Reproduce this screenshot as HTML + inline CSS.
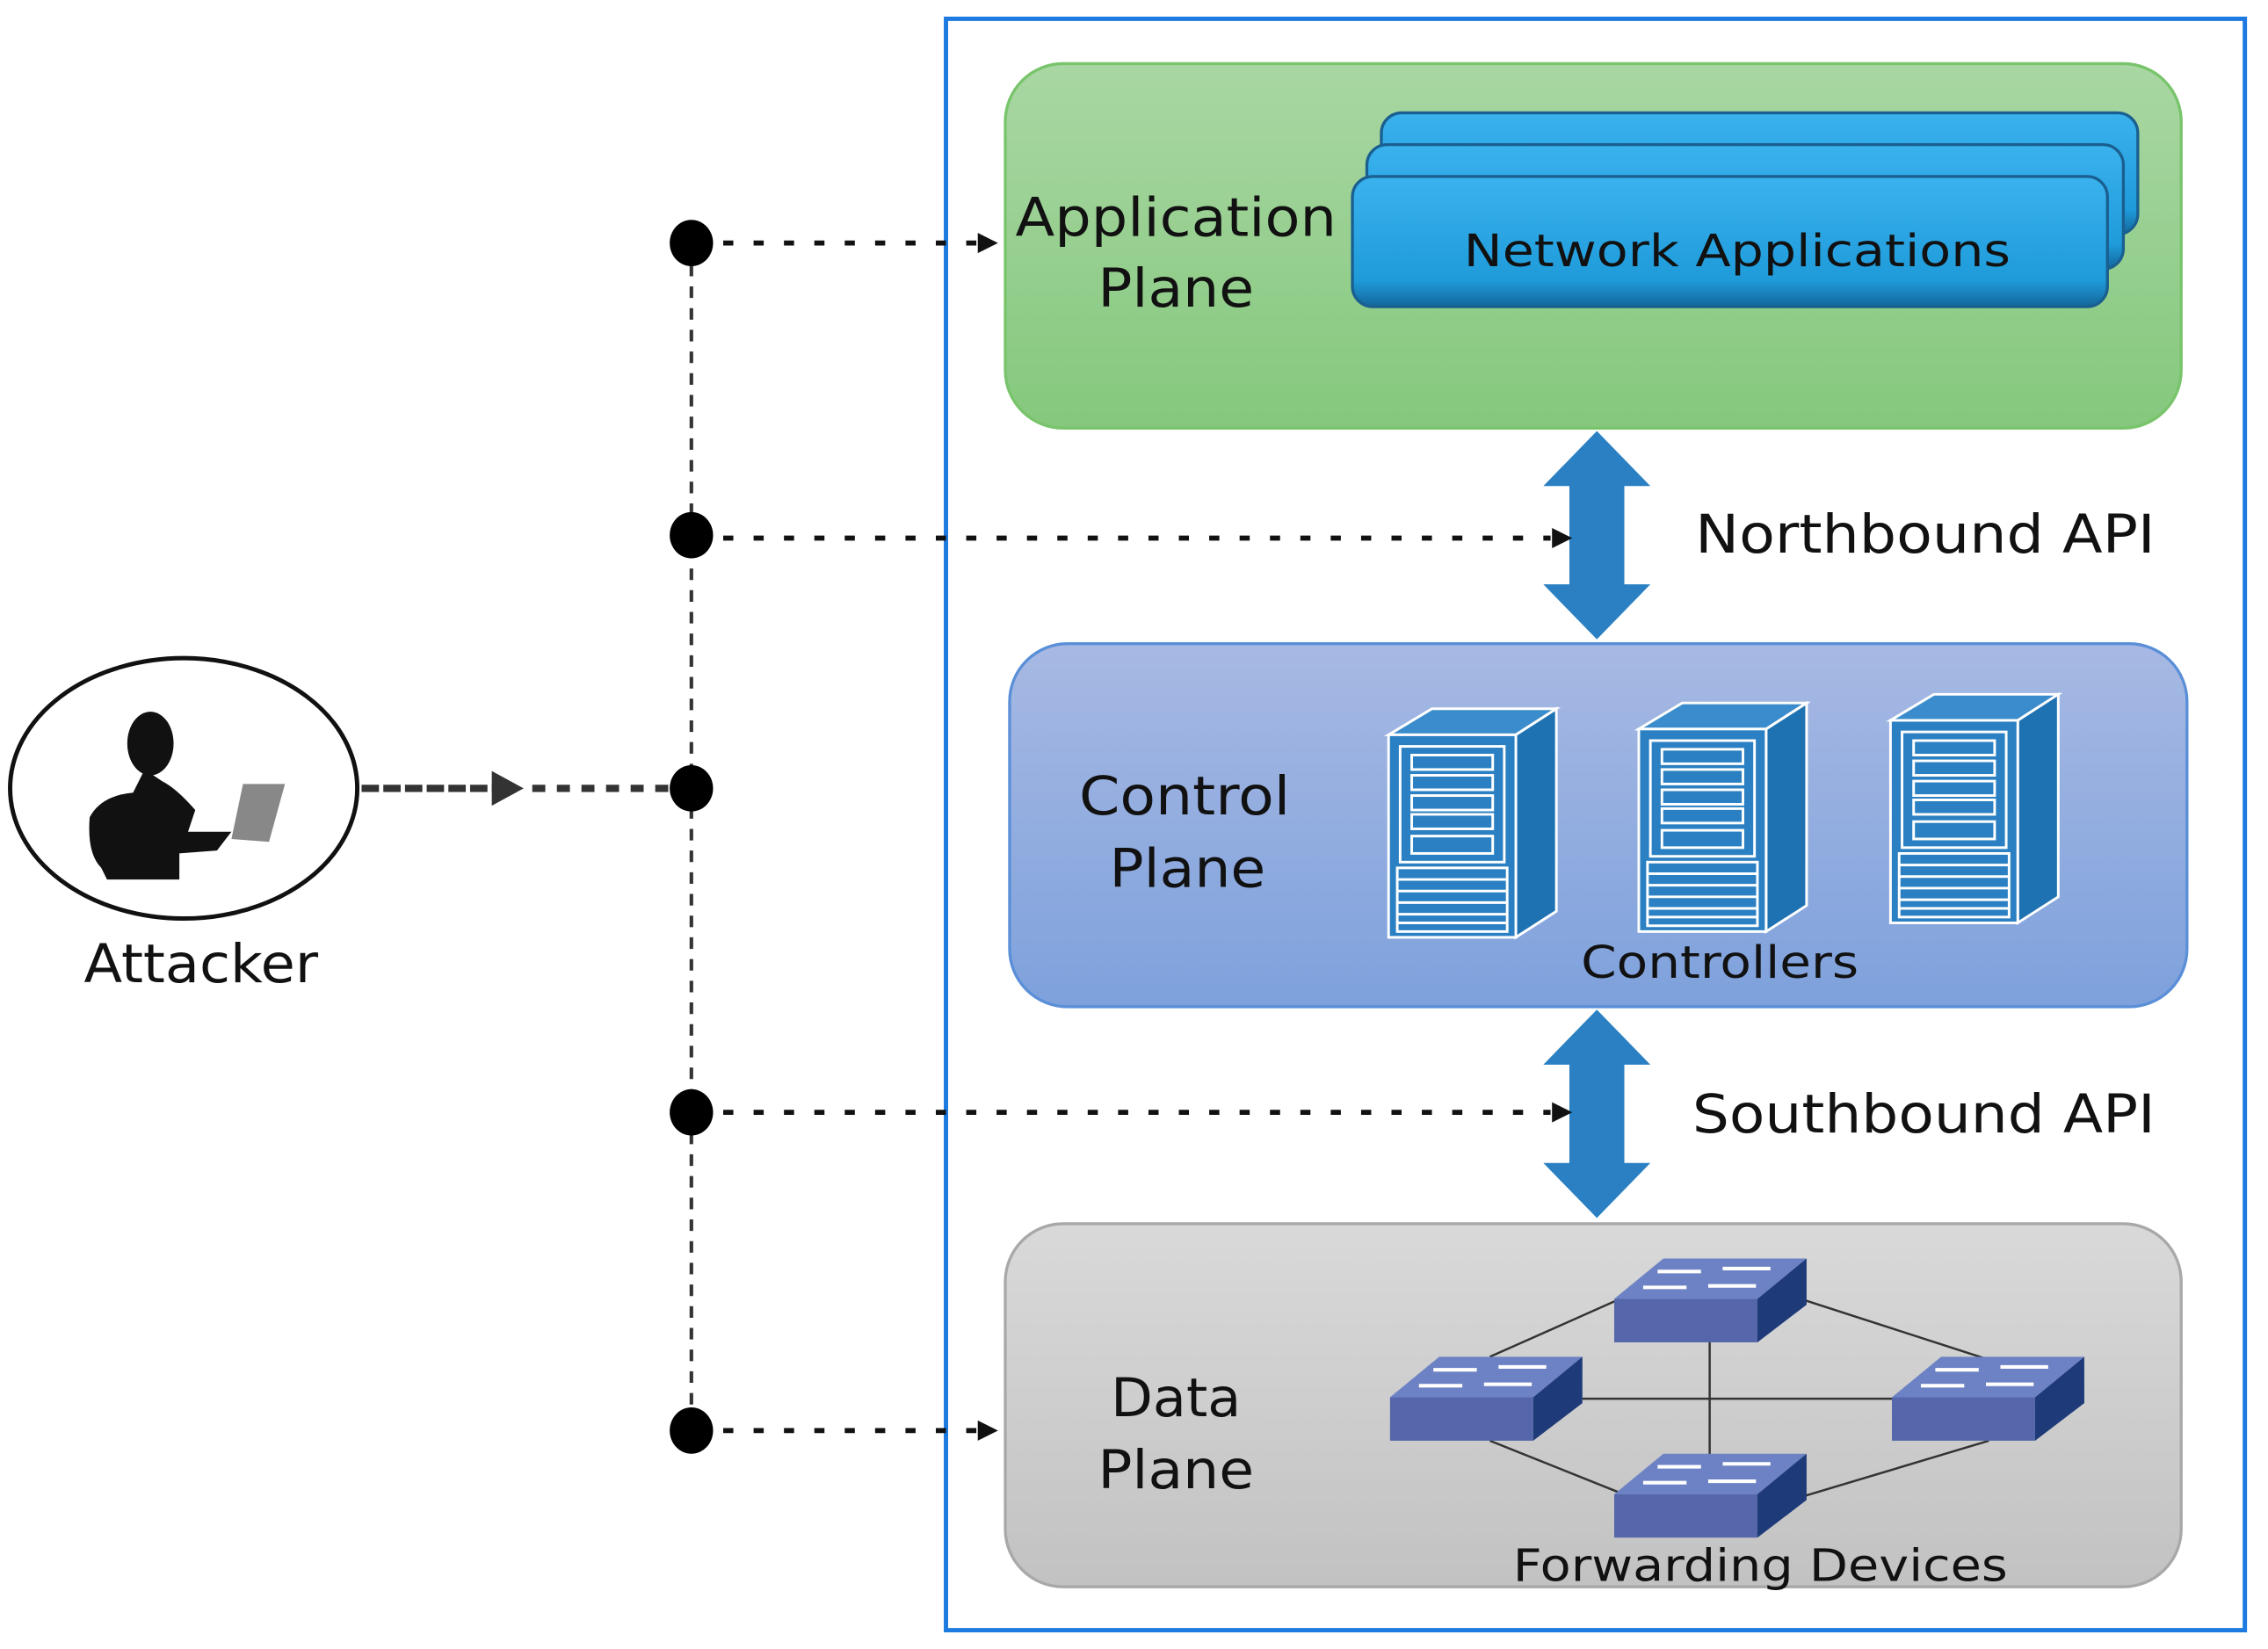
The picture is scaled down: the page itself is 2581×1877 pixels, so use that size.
<!DOCTYPE html>
<html><head><meta charset="utf-8"><style>
html,body{margin:0;padding:0;background:#fff}
svg{display:block}
text{font-family:"DejaVu Sans","Liberation Sans",sans-serif;fill:#111}
</style></head><body>
<svg width="2581" height="1877" viewBox="0 0 1568 1140" preserveAspectRatio="none" xmlns="http://www.w3.org/2000/svg">
<defs>
<linearGradient id="gG" x1="0" y1="0" x2="0" y2="1"><stop offset="0" stop-color="#a9d7a3"/><stop offset="1" stop-color="#85c87d"/></linearGradient>
<linearGradient id="gB" x1="0" y1="0" x2="0" y2="1"><stop offset="0" stop-color="#a7b9e3"/><stop offset="1" stop-color="#7ea1dc"/></linearGradient>
<linearGradient id="gD" x1="0" y1="0" x2="0" y2="1"><stop offset="0" stop-color="#d9d9d9"/><stop offset="1" stop-color="#c2c2c2"/></linearGradient>
<linearGradient id="gN" x1="0" y1="0" x2="0" y2="1"><stop offset="0" stop-color="#3ab2ee"/><stop offset="0.8" stop-color="#1f9bda"/><stop offset="1" stop-color="#13669a"/></linearGradient>
<g id="srv" stroke="#fff" stroke-width="1.8">
<polygon points="0,18 30,0 116,0 88,18" fill="#3a8ccc"/>
<polygon points="88,18 116,0 116,140 88,158" fill="#1f72b2"/>
<rect x="0" y="18" width="88" height="140" fill="#2a80c2"/>
<rect x="8" y="26" width="72" height="80" fill="#2a80c2"/>
<rect x="16" y="32" width="56" height="10" fill="#2a80c2"/>
<rect x="16" y="46" width="56" height="10" fill="#2a80c2"/>
<rect x="16" y="60" width="56" height="10" fill="#2a80c2"/>
<rect x="16" y="73" width="56" height="10" fill="#2a80c2"/>
<rect x="16" y="88" width="56" height="12" fill="#2a80c2"/>
<rect x="6" y="110" width="76" height="44" fill="#2a80c2"/>
<line x1="6" y1="118" x2="82" y2="118"/><line x1="6" y1="126" x2="82" y2="126"/><line x1="6" y1="134" x2="82" y2="134"/><line x1="6" y1="142" x2="82" y2="142"/><line x1="6" y1="148" x2="82" y2="148"/>
</g>
<g id="sw">
<polygon points="0,28 34,0 133,0 99,28" fill="#6d82c4"/>
<rect x="0" y="28" width="99" height="30" fill="#5567aa"/>
<polygon points="99,28 133,0 133,32 99,58" fill="#1e3a78"/>
<g stroke="#fff" stroke-width="2.5"><line x1="30" y1="9" x2="60" y2="9"/><line x1="75" y1="7" x2="108" y2="7"/><line x1="20" y1="20" x2="50" y2="20"/><line x1="65" y1="19" x2="98" y2="19"/></g>
</g>
</defs>
<rect x="654" y="13" width="898" height="1114" fill="#fff" stroke="#1c7ae0" stroke-width="3"/>
<rect x="695" y="44" width="813" height="252" rx="40" fill="url(#gG)" stroke="#78c46b" stroke-width="2"/>
<rect x="955" y="78" width="523" height="84" rx="14" fill="url(#gN)" stroke="#1a5f90" stroke-width="2"/>
<rect x="945" y="100" width="523" height="86" rx="14" fill="url(#gN)" stroke="#1a5f90" stroke-width="2"/>
<rect x="935" y="122" width="522" height="90" rx="14" fill="url(#gN)" stroke="#1a5f90" stroke-width="2"/>
<text x="702" y="163" font-size="37" textLength="222" lengthAdjust="spacingAndGlyphs">Application</text>
<text x="759" y="212" font-size="37" textLength="108" lengthAdjust="spacingAndGlyphs">Plane</text>
<text x="1012" y="184" font-size="31" textLength="378" lengthAdjust="spacingAndGlyphs">Network Applications</text>
<polygon points="1104,298 1141,336 1123,336 1123,404 1141,404 1104,442 1067,404 1085,404 1085,336 1067,336" fill="#2a80c2"/>
<text x="1172" y="382" font-size="37" textLength="318" lengthAdjust="spacingAndGlyphs">Northbound API</text>
<rect x="698" y="445" width="814" height="251" rx="40" fill="url(#gB)" stroke="#5a8fd8" stroke-width="2"/>
<text x="746" y="563" font-size="37" textLength="146" lengthAdjust="spacingAndGlyphs">Control</text>
<text x="767" y="613" font-size="37" textLength="108" lengthAdjust="spacingAndGlyphs">Plane</text>
<use href="#srv" x="960" y="490"/>
<use href="#srv" x="1133" y="486"/>
<use href="#srv" x="1307" y="480"/>
<text x="1093" y="676" font-size="31" textLength="192" lengthAdjust="spacingAndGlyphs">Controllers</text>
<polygon points="1104,698 1141,736 1123,736 1123,804 1141,804 1104,842 1067,804 1085,804 1085,736 1067,736" fill="#2a80c2"/>
<text x="1170" y="783" font-size="37" textLength="320" lengthAdjust="spacingAndGlyphs">Southbound API</text>
<rect x="695" y="846" width="813" height="251" rx="40" fill="url(#gD)" stroke="#a8a8a8" stroke-width="2"/>
<text x="768" y="979" font-size="37" textLength="90" lengthAdjust="spacingAndGlyphs">Data</text>
<text x="759" y="1029" font-size="37" textLength="108" lengthAdjust="spacingAndGlyphs">Plane</text>
<g stroke="#333" stroke-width="1.5">
<line x1="1030" y1="938" x2="1120" y2="898"/><line x1="1245" y1="898" x2="1375" y2="940"/>
<line x1="1030" y1="996" x2="1120" y2="1032"/><line x1="1245" y1="1035" x2="1375" y2="996"/>
<line x1="1094" y1="967" x2="1310" y2="967"/><line x1="1182" y1="925" x2="1182" y2="1008"/>
</g>
<use href="#sw" x="1116" y="870"/>
<use href="#sw" x="961" y="938"/>
<use href="#sw" x="1308" y="938"/>
<use href="#sw" x="1116" y="1005"/>
<text x="1046" y="1093" font-size="31" textLength="342" lengthAdjust="spacingAndGlyphs">Forwarding Devices</text>
<line x1="478" y1="168" x2="478" y2="990" stroke="#333" stroke-width="2.5" stroke-dasharray="8,7"/>
<g fill="#000">
<ellipse cx="478" cy="168" rx="15" ry="16"/><ellipse cx="478" cy="370" rx="15" ry="16"/><ellipse cx="478" cy="545" rx="15" ry="16"/><ellipse cx="478" cy="769" rx="15" ry="16"/><ellipse cx="478" cy="989" rx="15" ry="16"/>
</g>
<g stroke="#111" stroke-width="3.5" stroke-dasharray="7,14">
<line x1="500" y1="168" x2="676" y2="168"/><line x1="500" y1="372" x2="1072" y2="372"/><line x1="500" y1="769" x2="1072" y2="769"/><line x1="500" y1="989" x2="676" y2="989"/>
</g>
<g fill="#111">
<polygon points="676,161 690,168 676,175"/><polygon points="1073,365 1087,372 1073,379"/><polygon points="1073,762 1087,769 1073,776"/><polygon points="676,982 690,989 676,996"/>
</g>
<line x1="250" y1="545" x2="345" y2="545" stroke="#333" stroke-width="5" stroke-dasharray="12,3"/>
<polygon points="340,533 362,545 340,557" fill="#333"/>
<line x1="368" y1="545" x2="463" y2="545" stroke="#333" stroke-width="5" stroke-dasharray="9,8"/>
<ellipse cx="127" cy="545" rx="120" ry="90" fill="#fff" stroke="#111" stroke-width="3"/>
<g fill="#111">
<ellipse cx="104" cy="514" rx="16" ry="22"/>
<path d="M100,532 L92,548 Q70,550 62,565 Q60,590 70,600 L74,608 L124,608 L124,590 L150,588 L160,575 L130,575 L135,560 Q122,545 112,540 Z"/>
</g>
<polygon points="168,542 197,542 186,582 160,580" fill="#888"/>
<text x="58" y="679" font-size="37" textLength="162" lengthAdjust="spacingAndGlyphs">Attacker</text>
</svg>
</body></html>
